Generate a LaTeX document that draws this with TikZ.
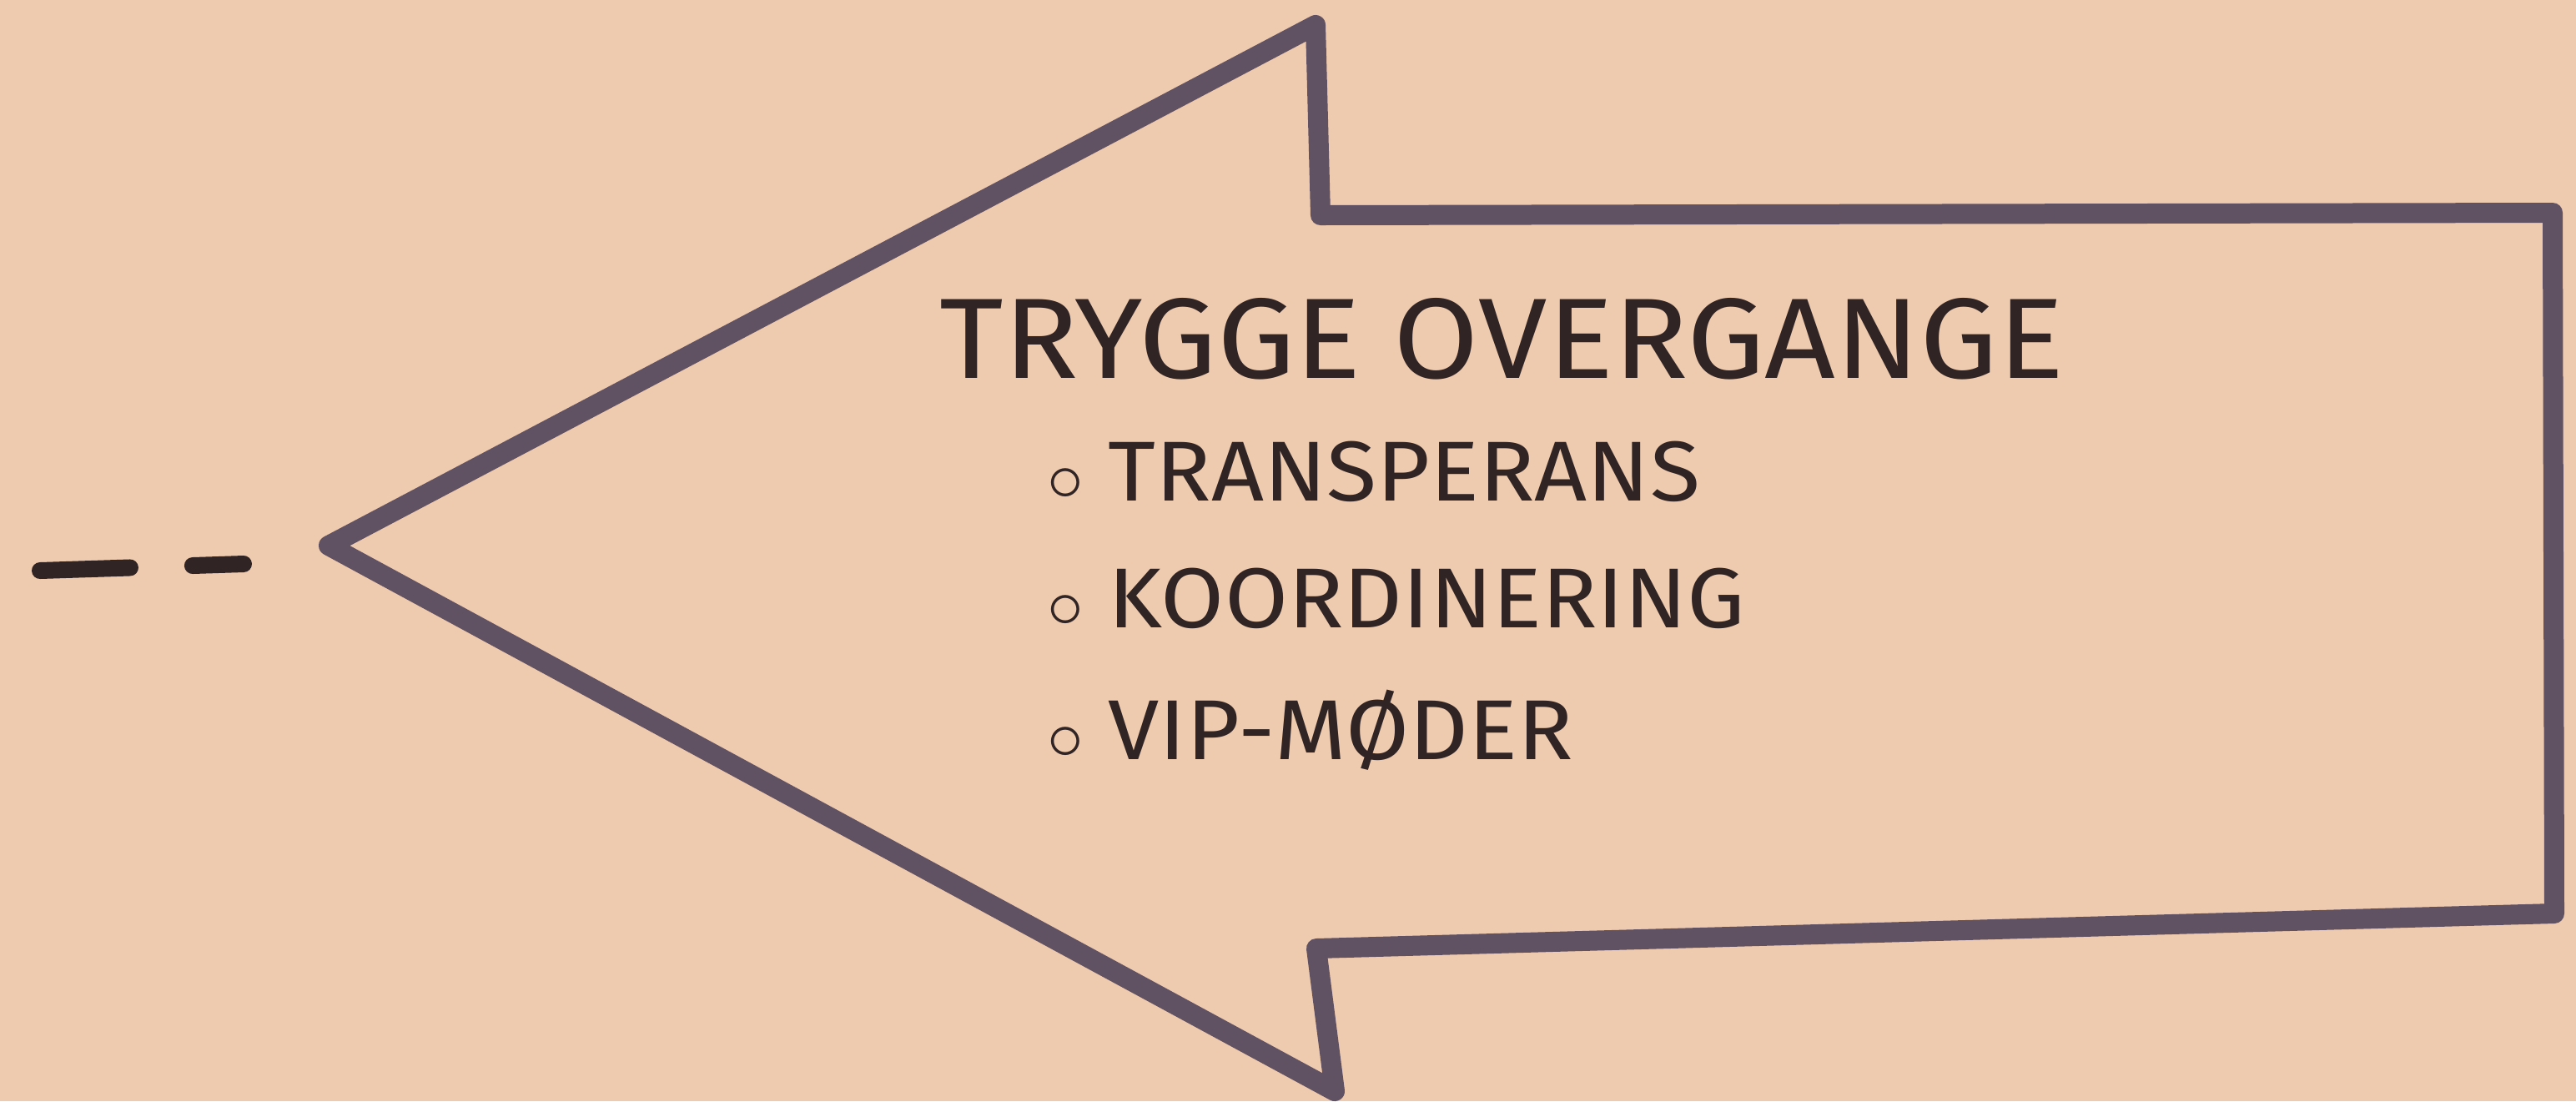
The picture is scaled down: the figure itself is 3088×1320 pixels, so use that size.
\documentclass[tikz,border=0pt]{standalone}
\usepackage{fontspec}
\setmainfont{Fira Sans}[FakeStretch=1.08]
\usetikzlibrary{positioning}
\definecolor{paper}{RGB}{238,202,174}
\definecolor{marker}{RGB}{96,82,98}
\definecolor{ink}{RGB}{48,36,36}
\tikzset{
  outline/.style={draw=marker,line width=2.4mm,line join=round,line cap=round},
  heading/.style={text=ink,font=\fontsize{39}{43}\selectfont,anchor=base west,inner sep=0pt},
  point/.style={text=ink,font=\fontsize{29}{33}\selectfont,anchor=base west,inner sep=0pt},
}
\begin{document}
\begin{tikzpicture}[x=0.1mm,y=-0.1mm]
\fill[paper] (0,0) rectangle (3088,1320);
\useasboundingbox (0,0) rectangle (3088,1320);
% arrow outline
\coordinate (tip) at (394,654);
\draw[outline] (tip) -- (1577,30) -- (1583,258) -- (3060,255) -- (3062,1095) -- (1578,1137) -- (1600,1308) -- cycle;
% lead-in dashes
\coordinate (dashA) at (48,684);
\coordinate (dashB) at (292,676);
\draw[ink,line width=2mm,line cap=round,dash pattern=on 10.8mm off 7.5mm] (dashA) -- (dashB);
% text
\node[heading] (title) at (1126,453) {TRYGGE OVERGANGE};
\foreach \name/\y/\txt in {transp/600/TRANSPERANS,koord/752/KOORDINERING,vip/910/VIP-MØDER}
  \node[point] (\name) at (1255,\y) {$\circ$\ \txt};
\end{tikzpicture}
\end{document}
